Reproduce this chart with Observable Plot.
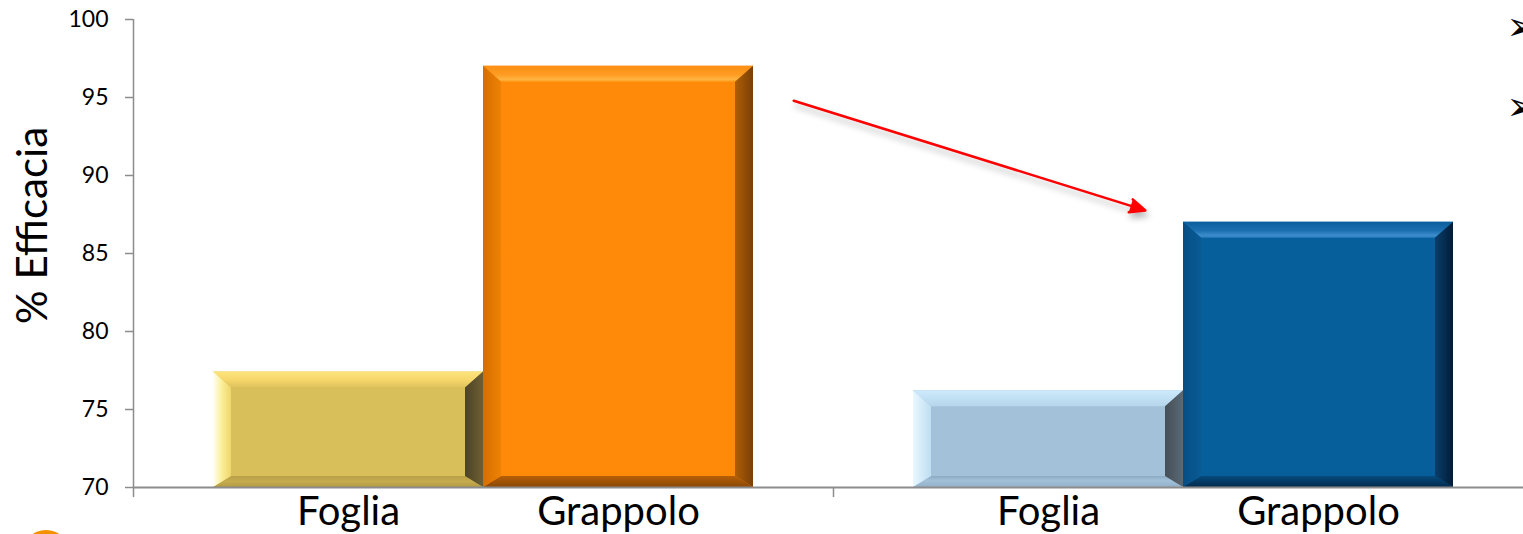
<!DOCTYPE html>
<html><head><meta charset="utf-8">
<script src="https://cdn.jsdelivr.net/npm/d3@7"></script>
<script src="https://cdn.jsdelivr.net/npm/@observablehq/plot@0.6"></script>
<style>
html,body{margin:0;padding:0;background:#fff;overflow:hidden;}
#wrap{position:relative;width:1523px;height:534px;overflow:hidden;}
#wrap svg{max-width:none !important;display:block;}
.bullet{position:absolute;left:1506px;font-family:"DejaVu Sans";font-size:40px;line-height:1;color:#000;}
.logo{position:absolute;left:22px;top:530px;width:48px;height:48px;border-radius:50%;background:#F39200;}
</style></head><body>
<div id="wrap"></div>
<script>
// ---- data ----
const groups = ["A", "B"];
const parts = ["Foglia", "Grappolo"];
const efficaciaA = [77.4, 97];
const efficaciaB = [76.2, 87];
const yDomain = [70, 100];
const yTicks = [70, 75, 80, 85, 90, 95, 100];
const yLabel = "% Efficacia";
const arrows = [{fromGroup: "A", fromValue: 101, toGroup: "B", toValue: 87}];
const bullets = ["➢", "➢"];

const rows = [];
[efficaciaA, efficaciaB].forEach((vals, gi) =>
  parts.forEach((p, pi) => rows.push({group: groups[gi], part: p, value: vals[pi]})));
const fogliaRows = rows.filter(d => d.part === "Foglia");
const grappoloRows = rows.filter(d => d.part === "Grappolo");

// ---- styles ----
const palette = {
  "A|Foglia": {face: "#D9BF59",
    top: [[0, "#FFE47E"], [0.5, "#F5D76B"], [1, "#DEC25C"]],
    left: [[0, "#FFFFF6"], [0.5, "#FCEE96"], [1, "#EDD66C"]],
    right: [[0, "#6E6034"], [1, "#4C4226"]],
    bottom: [[0, "#B49A42"], [0.5, "#C6AC4E"], [1, "#B99F48"]]},
  "A|Grappolo": {face: "#FF8A0A",
    top: [[0, "#FF8E14"], [0.55, "#FF9C22"], [0.85, "#FFB440"], [1, "#FF9A1C"]],
    left: [[0, "#D46E00"], [1, "#EF8204"]],
    right: [[0, "#7A4006"], [1, "#AE5E06"]],
    bottom: [[0, "#8A4806"], [1, "#B65F06"]]},
  "B|Foglia": {face: "#A3C2DA",
    top: [[0, "#CDEAFB"], [1, "#B6D6EC"]],
    left: [[0, "#EAF8FF"], [1, "#BEDEF2"]],
    right: [[0, "#5C6872"], [1, "#444F58"]],
    bottom: [[0, "#93B2CA"], [0.6, "#A2C1D9"], [1, "#8CABC3"]]},
  "B|Grappolo": {face: "#065E9A",
    top: [[0, "#0B5E9C"], [0.55, "#1C70B0"], [0.85, "#3C8CCB"], [1, "#2A7CBC"]],
    left: [[0, "#064E85"], [1, "#0A5A94"]],
    right: [[0, "#021C36"], [1, "#0A3E6C"]],
    bottom: [[0, "#032C4E"], [1, "#064A7C"]]}
};
const bev = {l: 18, r: 18, t: 16, b: 11};
const axisGray = "#8C8C8C";
const band = 700, barW = 270, outer = 80; // pixel layout of bars within a group band

// ---- bevel render ----
const NS = "http://www.w3.org/2000/svg";
let gradCount = 0;
function el(name, attrs) {
  const e = document.createElementNS(NS, name);
  for (const k in attrs) e.setAttribute(k, attrs[k]);
  return e;
}
function grad(defs, stops, x1, y1, x2, y2) {
  const id = "bev" + (gradCount++);
  const lg = el("linearGradient", {id, gradientUnits: "userSpaceOnUse", x1, y1, x2, y2});
  stops.forEach(([o, c]) => lg.appendChild(el("stop", {offset: o, "stop-color": c})));
  defs.appendChild(lg);
  return `url(#${id})`;
}
function bevel(data) {
  return function(index, scales, values, dims, ctx, next) {
    const g = next(index, scales, values, dims, ctx);
    const defs = el("defs", {});
    g.insertBefore(defs, g.firstChild);
    Array.from(g.querySelectorAll("rect")).forEach((r, k) => {
      const d = data[index[k]];
      const pal = palette[d.group + "|" + d.part];
      const x = +r.getAttribute("x"), y = +r.getAttribute("y");
      const w = +r.getAttribute("width"), h = +r.getAttribute("height");
      r.setAttribute("fill", pal.face);
      const parent = r.parentNode;
      const pts = a => a.map(p => p.join(",")).join(" ");
      const X0 = x, X1 = x + w, Y0 = y, Y1 = y + h;
      const iX0 = x + bev.l, iX1 = x + w - bev.r, iY0 = y + bev.t, iY1 = y + h - bev.b;
      parent.appendChild(el("polygon", {points: pts([[X0, Y0], [X1, Y0], [iX1, iY0], [iX0, iY0]]),
        fill: grad(defs, pal.top, 0, Y0, 0, iY0)}));
      parent.appendChild(el("polygon", {points: pts([[X0, Y1], [X1, Y1], [iX1, iY1], [iX0, iY1]]),
        fill: grad(defs, pal.bottom, 0, Y1, 0, iY1)}));
      parent.appendChild(el("polygon", {points: pts([[X0, Y0], [iX0, iY0], [iX0, iY1], [X0, Y1]]),
        fill: grad(defs, pal.left, X0, 0, iX0, 0)}));
      parent.appendChild(el("polygon", {points: pts([[X1, Y0], [iX1, iY0], [iX1, iY1], [X1, Y1]]),
        fill: grad(defs, pal.right, X1, 0, iX1, 0)}));
    });
    return g;
  };
}
function shadow(index, scales, values, dims, ctx, next) {
  const g = next(index, scales, values, dims, ctx);
  g.setAttribute("style", "filter: drop-shadow(2px 5px 3px rgba(0,0,0,0.28))");
  return g;
}

const chart = Plot.plot({
  width: 1533, height: 534,
  marginLeft: 133, marginRight: 0, marginTop: 19, marginBottom: 47,
  style: {fontFamily: "Lato", color: "black", background: "white", overflow: "visible", maxWidth: "none"},
  x: {domain: groups, padding: 0, axis: null},
  y: {domain: yDomain, axis: null},
  marks: [
    Plot.barY(fogliaRows, {x: "group", y1: d => yDomain[0], y2: "value",
      insetLeft: outer, insetRight: band - outer - barW, render: bevel(fogliaRows)}),
    Plot.barY(grappoloRows, {x: "group", y1: d => yDomain[0], y2: "value",
      insetLeft: outer + barW, insetRight: outer, render: bevel(grappoloRows)}),
    Plot.ruleY([yDomain[0]], {stroke: axisGray, strokeWidth: 2}),
    Plot.ruleX([groups[0]], {dx: -band / 2, stroke: axisGray, strokeWidth: 1.5}),
    Plot.axisX({ticks: groups, tickSize: 10, tickFormat: () => "", dx: -band / 2,
      stroke: axisGray, strokeWidth: 1.5, label: null}),
    Plot.axisY({ticks: yTicks, tickSize: 8, tickPadding: 17, fontSize: 23,
      stroke: axisGray, strokeWidth: 1.5, label: null}),
    Plot.text(fogliaRows, {x: "group", text: "part", frameAnchor: "bottom", lineAnchor: "top",
      dy: 9, dx: -(band / 2 - outer - barW / 2), fontSize: 40}),
    Plot.text(grappoloRows, {x: "group", text: "part", frameAnchor: "bottom", lineAnchor: "top",
      dy: 9, dx: band / 2 - outer - barW / 2, fontSize: 40}),
    Plot.text([yLabel], {text: d => d, frameAnchor: "left", textAnchor: "middle", rotate: -90,
      dx: -100, dy: -28, fontSize: 42}),
    Plot.arrow(arrows, {x1: "fromGroup", y1: "fromValue", x2: "toGroup", y2: "toValue",
      insetStart: 325, insetEnd: 40, stroke: "#FF0000", fill: "#FF0000", strokeWidth: 2.5,
      headLength: 10, headAngle: 48, render: shadow})
  ]
});
chart.style.maxWidth = "none";
const wrap = document.getElementById("wrap");
wrap.appendChild(chart);
bullets.forEach((b, i) => {
  const s = document.createElement("span");
  s.className = "bullet";
  s.style.top = (6 + i * 80) + "px";
  s.textContent = b;
  wrap.appendChild(s);
});
const logo = document.createElement("div");
logo.className = "logo";
wrap.appendChild(logo);
</script>
</body></html>
